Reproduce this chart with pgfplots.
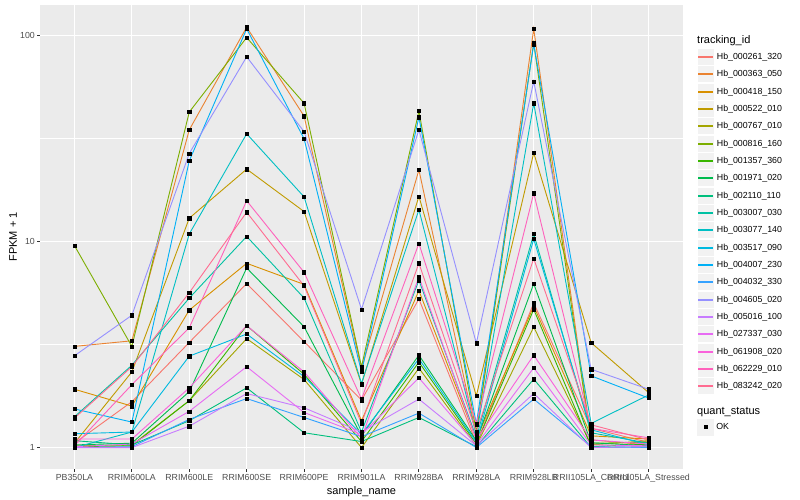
\documentclass[border=0pt]{standalone}
\usepackage{pgfplots}
\usepackage{pgfplotstable}
\pgfplotsset{compat=1.18}
\usepackage{fontspec}
\setmainfont{Liberation Sans}
\definecolor{c1}{HTML}{F8766D}
\definecolor{c2}{HTML}{EA8331}
\definecolor{c3}{HTML}{D89000}
\definecolor{c4}{HTML}{C09B00}
\definecolor{c5}{HTML}{A3A500}
\definecolor{c6}{HTML}{7CAE00}
\definecolor{c7}{HTML}{39B600}
\definecolor{c8}{HTML}{00BB4E}
\definecolor{c9}{HTML}{00BF7D}
\definecolor{c10}{HTML}{00C1A3}
\definecolor{c11}{HTML}{00BFC4}
\definecolor{c12}{HTML}{00BAE0}
\definecolor{c13}{HTML}{00B0F6}
\definecolor{c14}{HTML}{35A2FF}
\definecolor{c15}{HTML}{9590FF}
\definecolor{c16}{HTML}{C77CFF}
\definecolor{c17}{HTML}{E76BF3}
\definecolor{c18}{HTML}{FA62DB}
\definecolor{c19}{HTML}{FF62BC}
\definecolor{c20}{HTML}{FF6C91}
\definecolor{ggbg}{HTML}{EBEBEB}
\definecolor{ggkey}{HTML}{F2F2F2}
\definecolor{grey30}{HTML}{4D4D4D}
\definecolor{grey20}{HTML}{333333}

\pgfplotstableread{
x s1 s2 s3 s4 s5 s6 s7 s8 s9 s10 s11 s12 s13 s14 s15 s16 s17 s18 s19 s20
0 1.05 3.10 1.92 1.05 1.02 9.57 1.01 1.03 1.08 1.41 1.00 1.167 1.54 1.00 2.79 1.00 1.01 1.10 1.02 1.39
1 1.67 3.30 1.59 2.33 1.03 3.10 1.02 1.05 1.03 2.51 1.19 1.19 1.33 1.01 4.39 1.00 1.04 1.10 2.02 2.47
2 3.24 34.9 4.65 13.0 1.69 42.6 1.69 1.87 1.35 5.32 10.9 2.78 24.7 1.37 26.8 1.27 1.50 1.95 3.82 5.65
3 6.26 110 7.85 22.5 3.38 98 3.91 7.45 1.95 10.6 33.4 3.56 108 1.73 79 1.83 2.47 3.91 15.8 13.9
4 3.27 40.7 6.20 14.0 2.14 47.0 2.27 3.86 1.18 5.32 16.5 2.21 31.6 1.40 34.2 1.56 1.48 2.33 7.10 6.10
5 1.70 2.41 1.35 2.03 1.00 2.47 1.07 1.14 1.07 1.19 2.05 1.16 2.33 1.13 4.69 1.19 1.16 1.11 1.72 1.31
6 5.27 22.3 5.78 16.6 2.43 43.1 2.60 2.81 1.40 6.50 14.3 2.70 40.2 1.47 34.9 1.72 2.18 6.74 9.80 7.86
7 1.05 1.15 1.10 1.78 1.02 1.19 1.04 1.08 1.01 1.12 1.15 1.06 1.30 1.00 3.21 1.02 1.03 1.09 1.31 1.19
8 5.03 108 4.86 27.0 3.85 92 4.69 6.25 2.15 10.9 47.0 10.3 91 1.72 60.0 1.83 2.44 2.81 17.2 8.28
9 1.24 1.09 1.14 3.23 1.03 1.05 1.01 1.055 1.00 1.18 1.31 1.22 2.23 1.01 2.40 1.00 1.03 1.09 1.24 1.29
10 1.06 1.03 1.10 1.85 1.08 1.06 1.04 1.02 1.01 1.05 1.80 1.03 1.74 1.00 1.92 1.01 1.02 1.04 1.115 1.09
}\data

\begin{document}
\begin{tikzpicture}
\begin{axis}[
  at={(40bp,31bp)}, anchor=south west,
  width=643bp, height=464bp, scale only axis,
  xmin=-0.6, xmax=10.6,
  ymode=log, ymin=0.787, ymax=141,
  xtick={0,...,10},
  xticklabels={PB350LA,RRIM600LA,RRIM600LE,RRIM600SE,RRIM600PE,RRIM901LA,RRIM928BA,RRIM928LA,RRIM928LB,RRII105LA\_Control,RRII105LA\_Stressed},
  ytick={1,10,100}, yticklabels={1,10,100},
  minor ytick={3.16228,31.6228},
  xtick pos=bottom, ytick pos=left,
  grid=both,
  major grid style={white, line width=1.07bp},
  minor grid style={white, line width=0.53bp},
  axis background/.style={fill=ggbg},
  axis line style={draw=none},
  tick align=outside,
  major tick length=2.75bp, minor tick length=0pt,
  tick style={grey20, line width=1.07bp},
  /pgf/number format/assume math mode=true,
  xticklabel style={font=\fontsize{8.8bp}{10bp}\selectfont, text=grey30, inner sep=0pt, anchor=north, yshift=-2.2bp},
  yticklabel style={font=\fontsize{8.8bp}{10bp}\selectfont, text=grey30, inner sep=0pt, anchor=east, xshift=-2.2bp},
  xlabel={sample\_name}, ylabel={FPKM + 1},
  every axis x label/.style={at={(axis description cs:0.5,-0.0496)}, anchor=center, font=\fontsize{11bp}{13bp}\selectfont},
  every axis y label/.style={at={(axis description cs:-0.0420,0.5)}, anchor=center, rotate=90, font=\fontsize{11bp}{13bp}\selectfont},
]
\pgfplotsinvokeforeach{1,...,20}{
  \addplot[draw=c#1, line width=0.9bp, no marks] table[x=x, y=s#1]{\data};
}
\pgfplotsinvokeforeach{1,...,20}{
  \addplot[only marks, mark=square*, mark size=1.6bp, black] table[x=x, y=s#1]{\data};
}
\end{axis}
\begin{axis}[
  at={(40bp,31bp)}, anchor=south west,
  width=643bp, height=464bp, scale only axis,
  hide axis, xmin=0, xmax=1, ymin=0, ymax=1,
  legend cell align=left,
  legend style={at={(1.02177,0.10841)}, anchor=north west, draw=none, fill=none, inner sep=0pt, outer sep=0pt, row sep=0pt, column sep=2.7bp, font=\fontsize{8.8bp}{10bp}\selectfont, nodes={inner sep=0pt}},
  legend image code/.code={\fill[ggkey] (0.5bp,-8.14bp) rectangle (16.78bp,8.14bp); \draw[#1] plot coordinates {(8.64bp,0bp)};},
]
\addlegendimage{black, only marks, mark=square*, mark size=1.6bp}
\addlegendentry{OK}
\end{axis}
\foreach \i/\name in {1/Hb\_000261\_320,2/Hb\_000363\_050,3/Hb\_000418\_150,4/Hb\_000522\_010,5/Hb\_000767\_010,6/Hb\_000816\_160,7/Hb\_001357\_360,8/Hb\_001971\_020,9/Hb\_002110\_110,10/Hb\_003007\_030,11/Hb\_003077\_140,12/Hb\_003517\_090,13/Hb\_004007\_230,14/Hb\_004032\_330,15/Hb\_004605\_020,16/Hb\_005016\_100,17/Hb\_027337\_030,18/Hb\_061908\_020,19/Hb\_062229\_010,20/Hb\_083242\_020}{
  \pgfmathsetmacro{\yy}{443-round((\i-1)*17.33)}
  \fill[ggkey] (697.5bp,\yy bp-8.14bp) rectangle (713.8bp,\yy bp+8.14bp);
  \draw[c\i, line width=1.3bp] (698.4bp,\yy bp) -- (712.9bp,\yy bp);
  \node[anchor=west, inner sep=0pt, font=\fontsize{8.8bp}{10bp}\selectfont] at (716.7bp,\yy bp) {\name};
}
\node[anchor=west, inner sep=0pt, font=\fontsize{11bp}{13bp}\selectfont] at (697bp,459.3bp) {tracking\_id};
\node[anchor=west, inner sep=0pt, font=\fontsize{11bp}{13bp}\selectfont] at (697bp,88.3bp) {quant\_status};
\pgfresetboundingbox
\useasboundingbox (0,0) rectangle (800bp,500bp);
\end{tikzpicture}
\end{document}
